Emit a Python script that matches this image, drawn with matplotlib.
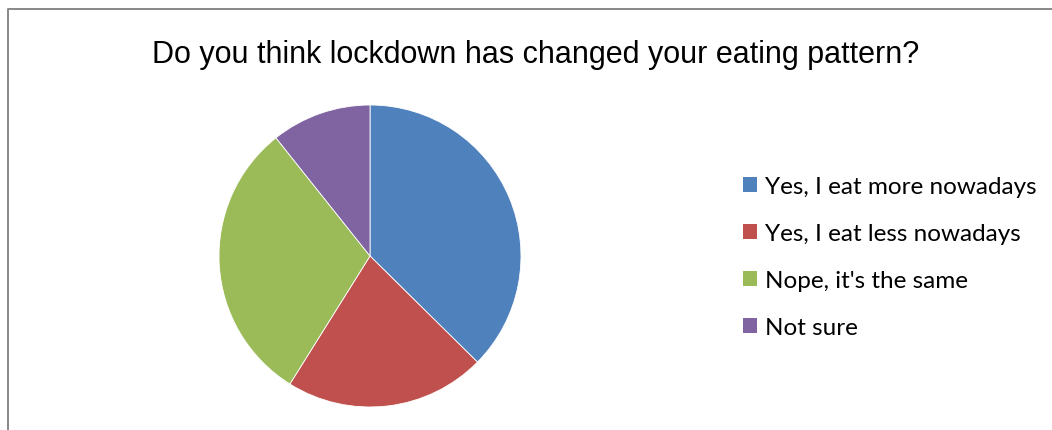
import matplotlib.pyplot as plt
from matplotlib.patches import Patch
from matplotlib.lines import Line2D

labels = ["Yes, I eat more nowadays", "Yes, I eat less nowadays",
          "Nope, it's the same", "Not sure"]
shares = [37.4, 21.5, 30.4, 10.7]
colors = ["#4f81bd", "#c0504d", "#9bbb59", "#8064a2"]

W, H = 1052, 431
fig = plt.figure(figsize=(W / 100, H / 100), dpi=100)

# chart frame (only top and left edges fall inside the image)
fig.add_artist(Line2D([8 / W, 8 / W, 1.0], [0.0, 1 - 10 / H, 1 - 10 / H],
                      transform=fig.transFigure, color="#888888", lw=1.4))

fig.text(536 / W, 1 - 55 / H, "Do you think lockdown has changed your eating pattern?",
         ha="center", va="center", fontsize=22, family="Liberation Sans", color="black")

cx, cy, r = 370, 257, 151
ax = fig.add_axes([(cx - r) / W, (H - cy - r) / H, 2 * r / W, 2 * r / H])
ax.pie(shares, colors=colors, startangle=90, counterclock=False, radius=1,
       wedgeprops=dict(linewidth=0.6, edgecolor="white"))
ax.set_xlim(-1, 1)
ax.set_ylim(-1, 1)
ax.set_aspect("equal")
ax.axis("off")

handles = [Patch(facecolor=c, edgecolor="none") for c in colors]
fig.legend(handles, labels, loc="upper left", bbox_to_anchor=(726 / W, 1 - 160 / H),
           frameon=False, prop={"family": "Lato", "size": 17.5},
           handlelength=0.58, handleheight=0.58, handletextpad=0.33,
           labelspacing=1.07, borderpad=0.2)

fig.savefig("out.png", dpi=100)
